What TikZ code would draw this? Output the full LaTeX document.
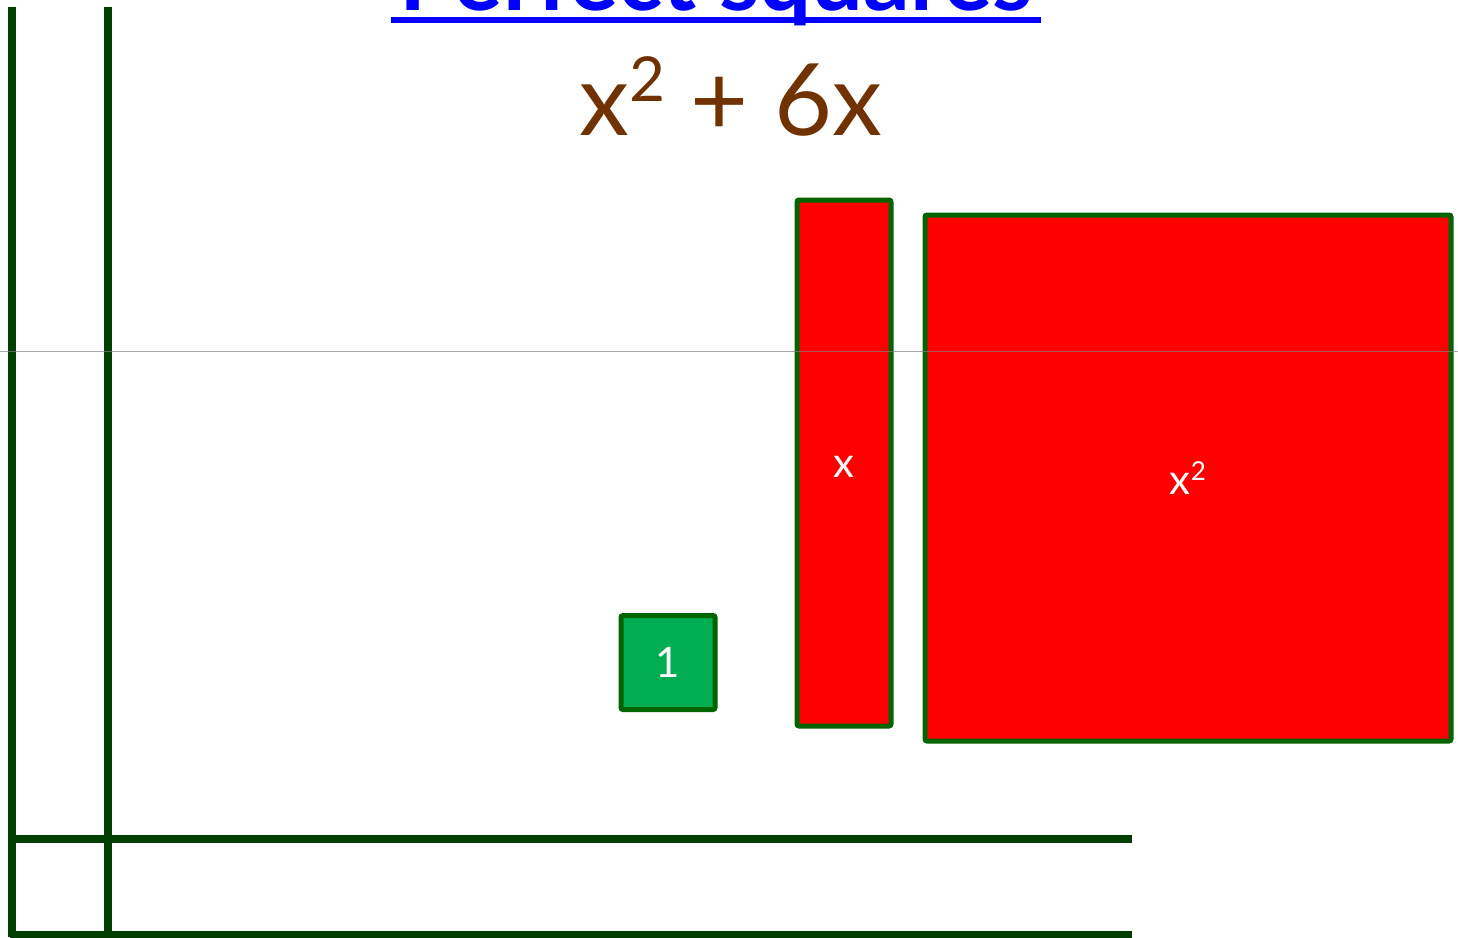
\documentclass[tikz,border=0pt]{standalone}
\usepackage{fontspec}
\setmainfont{Lato}
\usepackage{tikz}
\usetikzlibrary{positioning}
\definecolor{RailGreen}{RGB}{0, 63, 0}
\definecolor{TileEdge}{RGB}{0, 100, 0}
\definecolor{TileGreen}{RGB}{0, 173, 80}
\definecolor{TileRed}{RGB}{255, 0, 0}
\definecolor{TitleBrown}{RGB}{112, 50, 0}
\definecolor{LinkBlue}{RGB}{0, 0, 255}
\newcommand{\sqmark}{\raisebox{0.34em}{\fontsize{0.62em}{0.62em}\selectfont 2}}

\tikzset{
  rail/.style={RailGreen, line width=4pt},
  tilebox/.style={draw=TileEdge, line width=2.5pt, rounded corners=1pt, inner sep=0pt,
    text=white, font=\fontsize{21}{24}\selectfont},
  onetile/.style={tilebox, fill=TileGreen, minimum width=47pt, minimum height=47pt},
  xtile/.style={tilebox, fill=TileRed, minimum width=47pt, minimum height=263pt},
  sqtile/.style={tilebox, fill=TileRed, minimum width=263pt, minimum height=263pt}
}

\begin{document}
\begin{tikzpicture}[x=0.5pt,y=-0.5pt]
  \path[use as bounding box] (0,0) rectangle (1458,938);

  % Heading and expression
  \node[anchor=base, text=LinkBlue, font=\fontsize{46}{50}\selectfont\bfseries, inner sep=0pt]
    (title) at (716,10) {Perfect squares};
  \draw[LinkBlue, line width=3pt] (391,20) -- (1041,20);
  \node[anchor=base, text=TitleBrown, font=\fontsize{50}{56}\selectfont, inner sep=0pt]
    (expr) at (731,135) {x\sqmark{} + 6x};

  % Frame rails
  \draw[rail] (12,7) -- (12,937);
  \draw[rail] (108,7) -- (108,937);
  \draw[rail] (10,839) -- (1132,839);
  \draw[rail] (10,935) -- (1132,935);

  % Algebra tiles
  \node[onetile] (one) at (668,662.5) {1};
  \node[xtile] (xbar) at (844,463) {};
  \node[text=white, font=\fontsize{21}{24}\selectfont] (xlabel) at (844,467) {x};
  \node[sqtile] (xsq) at (1188,478) {x\sqmark};

  % Guide line
  \draw[gray, line width=0.5pt, opacity=0.7] (0,351) -- (1458,351);
\end{tikzpicture}
\end{document}
